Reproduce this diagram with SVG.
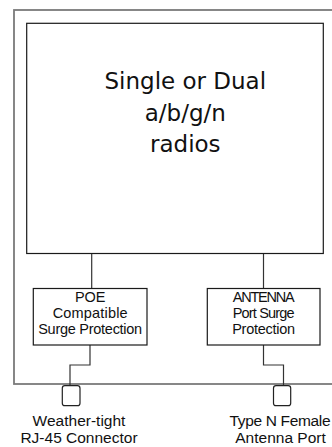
<svg xmlns="http://www.w3.org/2000/svg" width="332" height="447" viewBox="0 0 332 447">
<style>
.box{fill:#fff;stroke:#1a1a1a;stroke-width:1.2}
.outer{fill:#fff;stroke:#7a7a7a;stroke-width:1.8}
.conn{fill:none;stroke:#333;stroke-width:1.2}
.port{fill:#fff;stroke:#222;stroke-width:1.2}
.t{font-family:"Liberation Sans",Arial,sans-serif;fill:#111;text-anchor:middle}
.s{font-size:14.5px}
.l{font-size:15.5px}
.big{font-family:"DejaVu Sans",Verdana,sans-serif;font-size:23px;fill:#111;text-anchor:middle}
</style>
<g id="enclosure"><rect class="outer" x="14" y="10" width="330" height="374"/></g>
<g id="connectors">
<line class="conn" x1="91.7" y1="253.5" x2="91.7" y2="288.5"/>
<line class="conn" x1="263.5" y1="253.5" x2="263.5" y2="288.5"/>
<polyline class="conn" points="90,345 90,365 70,365 70,386"/>
<polyline class="conn" points="263.5,345 263.5,365 283.5,365 283.5,386"/>
</g>
<g id="radios">
<rect class="box" x="26.7" y="23.3" width="296.6" height="230.2"/>
<text class="big" x="185.3" y="88.5">Single or Dual</text>
<text class="big" x="185.3" y="121.3">a/b/g/n</text>
<text class="big" x="185.3" y="152.3">radios</text>
</g>
<g id="poe">
<rect class="box" x="33.3" y="288.5" width="113.7" height="56.5"/>
<text class="t s" x="90.2" y="301.7">POE</text>
<text class="t s" x="90.2" y="317.6" textLength="75">Compatible</text>
<text class="t s" x="90.2" y="334" textLength="104">Surge Protection</text>
</g>
<g id="antenna">
<rect class="box" x="207.3" y="288.5" width="112.7" height="56.5"/>
<text class="t s" x="263.7" y="301.7" textLength="62">ANTENNA</text>
<text class="t s" x="263.7" y="317.6" textLength="62">Port Surge</text>
<text class="t s" x="263.7" y="334" textLength="63">Protection</text>
</g>
<g id="rj45">
<rect class="port" x="62.3" y="385.7" width="17.7" height="20" rx="2.5"/>
<text class="t l" x="79" y="425.7">Weather-tight</text>
<text class="t l" x="79" y="442.7">RJ-45 Connector</text>
</g>
<g id="typen">
<rect class="port" x="273.5" y="385.7" width="17.2" height="20" rx="2.5"/>
<text class="t l" x="280" y="425.7" textLength="101">Type N Female</text>
<text class="t l" x="280.5" y="442.7">Antenna Port</text>
</g>
</svg>
